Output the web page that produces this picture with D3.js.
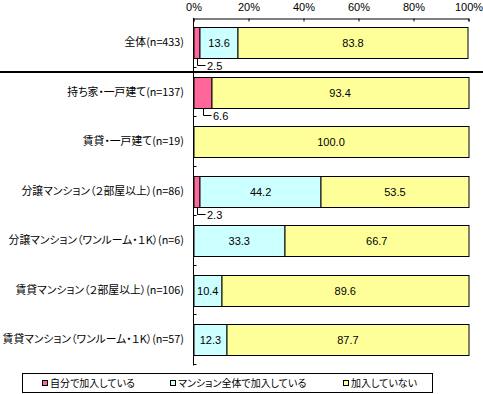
<!DOCTYPE html>
<html>
<head>
<meta charset="utf-8">
<script src="https://cdn.jsdelivr.net/npm/d3@7"></script>
<style>
  body { margin: 0; background: #fff; }
  svg text { font-family: "Noto Sans CJK JP", sans-serif; fill: #000; font-feature-settings: "palt"; }
  svg text.num { font-family: "Liberation Sans", Arial, sans-serif; }
</style>
</head>
<body>
<div class="chart"></div>
<script>
// Data
const categories = [
    '全体(n=433)',
    '持ち家・一戸建て(n=137)',
    '賃貸・一戸建て(n=19)',
    '分譲マンション（２部屋以上）(n=86)',
    '分譲マンション（ワンルーム・１K）(n=6)',
    '賃貸マンション（２部屋以上）(n=106)',
    '賃貸マンション（ワンルーム・１K）(n=57)'
]
const selfJoined = [2.5, 6.6, 0, 2.3, 0, 0, 0]
const buildingJoined = [13.6, 0, 0, 44.2, 33.3, 10.4, 12.3]
const notJoined = [83.8, 93.4, 100.0, 53.5, 66.7, 89.6, 87.7]
const seriesNames = ['自分で加入している', 'マンション全体で加入している', '加入していない']
const xTicks = [0, 20, 40, 60, 80, 100]

const colors = ['#FF6699', '#CCFFFF', '#FFFF99']

let dimensions = {
    width: 483,
    height: 394,
    plotLeft: 193.5,
    plotRight: 468.5,
    plotTop: 18,
    plotBottom: 364.5
}

const svg = d3.select('.chart')
    .append('svg')
    .attr('width', dimensions.width)
    .attr('height', dimensions.height)

const xScale = d3.scaleLinear()
    .domain([0, 100])
    .range([dimensions.plotLeft, dimensions.plotRight])

const yScale = d3.scaleBand()
    .domain(categories)
    .range([dimensions.plotTop, dimensions.plotBottom])
    .paddingInner(0.374)
    .paddingOuter(0.187)

const rows = categories.map((c, i) => {
    const vals = [selfJoined[i], buildingJoined[i], notJoined[i]]
    let acc = 0
    const segs = vals.map((v, k) => {
        const s = { key: k, start: acc, value: v, cat: c }
        acc += v
        return s
    })
    return { cat: c, segs: segs }
})

// Top axis
const xAxis = d3.axisTop(xScale)
    .tickValues(xTicks)
    .tickSize(-3)
    .tickPadding(8)
    .tickFormat(d => d + '%')

const xAxisGroup = svg.append('g')
    .attr('transform', `translate(0, ${dimensions.plotTop + 0.5})`)
    .call(xAxis)
xAxisGroup.select('.domain').attr('stroke', '#000')
xAxisGroup.selectAll('.tick line').attr('stroke', '#000')
xAxisGroup.selectAll('.tick text')
    .attr('class', 'num')
    .attr('font-size', '11px')
    .attr('font-family', null)

// Left axis line
svg.append('line')
    .attr('x1', dimensions.plotLeft).attr('x2', dimensions.plotLeft)
    .attr('y1', dimensions.plotTop).attr('y2', dimensions.plotBottom + 1)
    .attr('stroke', '#000')

// Category boundary ticks (inside)
const step = yScale.step()
svg.selectAll('.cat-tick')
    .data(categories)
    .join('line')
    .attr('class', 'cat-tick')
    .attr('x1', dimensions.plotLeft)
    .attr('x2', dimensions.plotLeft + 3)
    .attr('y1', (d, i) => Math.round(dimensions.plotTop + step * (i + 1)) - 0.5)
    .attr('y2', (d, i) => Math.round(dimensions.plotTop + step * (i + 1)) - 0.5)
    .attr('stroke', '#000')

// Category labels
svg.selectAll('.cat-label')
    .data(categories)
    .join('text')
    .attr('class', 'cat-label')
    .attr('x', 184)
    .attr('y', d => Math.round(yScale(d)) + yScale.bandwidth() / 2)
    .attr('dy', '0.35em')
    .attr('text-anchor', 'end')
    .attr('font-size', '10.8px')
    .text(d => d)

// Bars
const rowG = svg.selectAll('.row')
    .data(rows)
    .join('g')
    .attr('class', 'row')
    .attr('transform', d => `translate(0, ${Math.round(yScale(d.cat)) + 0.5})`)

rowG.selectAll('rect')
    .data(d => d.segs.filter(s => s.value > 0))
    .join('rect')
    .attr('x', s => Math.round(xScale(s.start)))
    .attr('width', s => Math.round(xScale(s.start + s.value)) - Math.round(xScale(s.start)))
    .attr('y', 0)
    .attr('height', Math.round(yScale.bandwidth()))
    .attr('fill', s => colors[s.key])
    .attr('stroke', '#000')
    .attr('stroke-width', 1)

// Inside value labels
rowG.selectAll('.val')
    .data(d => d.segs.filter(s => s.key > 0 && s.value > 0))
    .join('text')
    .attr('class', 'val num')
    .attr('x', s => xScale(s.start + s.value / 2))
    .attr('y', Math.round(yScale.bandwidth()) / 2)
    .attr('dy', '0.35em')
    .attr('text-anchor', 'middle')
    .attr('font-size', '11px')
    .text(s => s.value.toFixed(1))

// Small values with leader lines
const small = rowG.selectAll('.small')
    .data(d => d.segs.filter(s => s.key === 0 && s.value > 0))
    .join('g')
    .attr('class', 'small')

const bh = Math.round(yScale.bandwidth())
small.append('path')
    .attr('d', s => {
        const lx = Math.round(xScale(s.value / 2)) + 0.5
        return `M${lx},${bh} V${bh + 7} H${lx + 8}`
    })
    .attr('fill', 'none')
    .attr('stroke', '#000')

small.append('text')
    .attr('class', 'num')
    .attr('x', s => Math.round(xScale(s.value / 2)) + 10)
    .attr('y', bh + 8)
    .attr('dy', '0.35em')
    .attr('font-size', '11px')
    .text(s => s.value.toFixed(1))

// Separator line under 全体
svg.append('line')
    .attr('x1', 0).attr('x2', dimensions.width)
    .attr('y1', 72).attr('y2', 72)
    .attr('stroke', '#000')
    .attr('stroke-width', 2)

// Legend
const legend = svg.append('g')
legend.append('rect')
    .attr('x', 22.5).attr('y', 373.5)
    .attr('width', 410).attr('height', 19)
    .attr('fill', '#fff')
    .attr('stroke', '#000')

const legendX = [42, 170, 343]
const items = legend.selectAll('.item')
    .data(seriesNames)
    .join('g')
    .attr('class', 'item')
    .attr('transform', (d, i) => `translate(${legendX[i]}, 383)`)

items.append('rect')
    .attr('x', 0.5).attr('y', -2.5)
    .attr('width', 5).attr('height', 5)
    .attr('fill', (d, i) => colors[i])
    .attr('stroke', '#000')

items.append('text')
    .attr('x', 8)
    .attr('y', 0)
    .attr('dy', '0.35em')
    .attr('font-size', '10px')
    .text(d => d)
</script>
</body>
</html>
